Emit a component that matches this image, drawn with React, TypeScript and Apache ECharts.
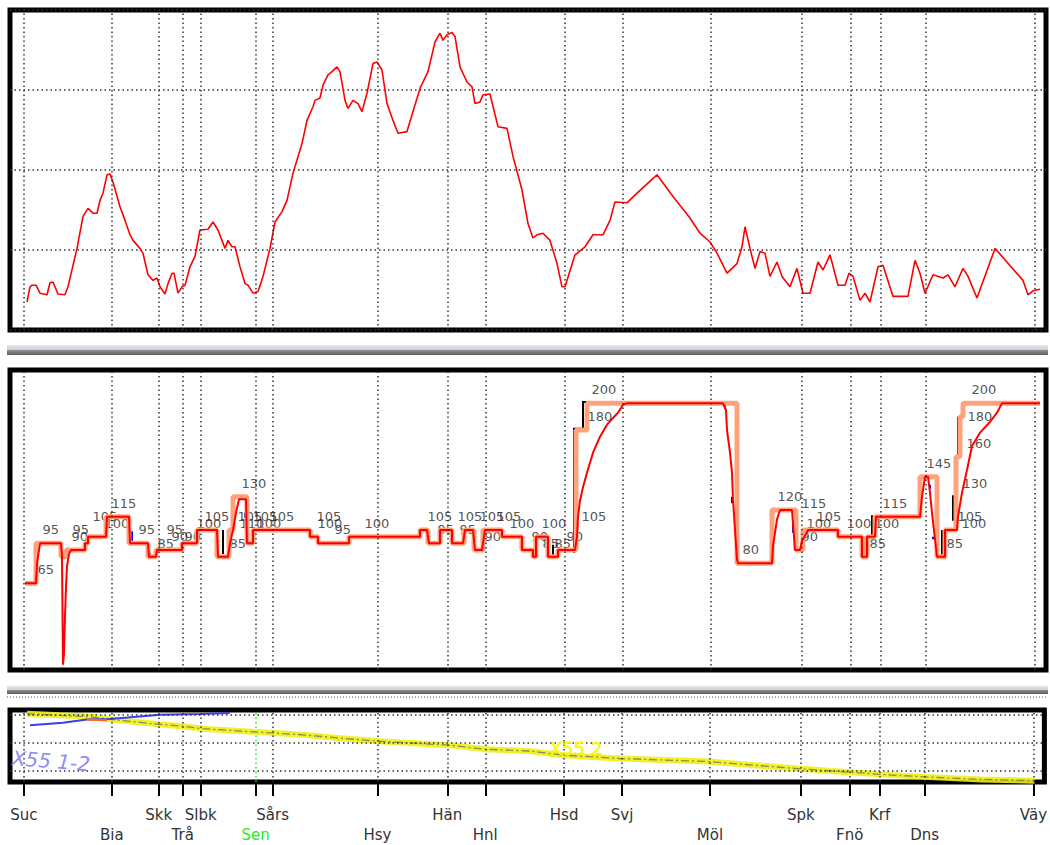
import React, { useEffect, useRef } from 'react';
import * as echarts from 'echarts';

// ---------- Stations ----------
const stationNames = ['Suc', 'Bia', 'Skk', 'Trå', 'Slbk', 'Sen', 'Sårs', 'Hsy', 'Hän', 'Hnl', 'Hsd', 'Svj', 'Möl', 'Spk', 'Fnö', 'Krf', 'Dns', 'Väy'];
const stationPos = [24, 112, 159, 183, 201, 256, 273, 378, 448, 486, 565, 623, 711, 802, 851, 881, 926, 1035];
const stationRow = [1, 2, 1, 2, 1, 2, 1, 2, 1, 2, 1, 1, 2, 1, 2, 1, 2, 1];

// ---------- Panel 1: elevation profile [position, height] ----------
const elevation = [
  [27, 35], [30, 54], [32, 56], [36, 56], [40, 46], [47, 44], [50, 59], [53, 60], [58, 45], [65, 44],
  [68, 54], [77, 102], [83, 142], [88, 152], [93, 146], [97, 146], [100, 162], [103, 171], [107, 194], [110, 195],
  [113, 185], [120, 154], [125, 137], [130, 119], [133, 112], [140, 102], [143, 96], [148, 69], [153, 62], [157, 65],
  [160, 54], [165, 45], [168, 58], [172, 71], [174, 71], [178, 46], [182, 54], [185, 56], [190, 79], [195, 92],
  [200, 125], [208, 126], [213, 135], [218, 125], [225, 102], [228, 112], [232, 104], [235, 104], [240, 79], [245, 58],
  [248, 56], [253, 46], [258, 48], [263, 67], [270, 102], [275, 135], [282, 148], [287, 162], [293, 196], [302, 233],
  [307, 262], [313, 279], [315, 287], [320, 290], [323, 306], [328, 319], [332, 323], [337, 329], [340, 323], [345, 287],
  [348, 277], [353, 287], [358, 283], [362, 273], [367, 296], [373, 333], [377, 335], [382, 325], [387, 283], [393, 262],
  [398, 246], [407, 248], [412, 269], [420, 302], [428, 323], [435, 360], [440, 371], [443, 362], [447, 369], [452, 372],
  [455, 367], [460, 329], [467, 310], [472, 304], [475, 283], [480, 285], [483, 294], [490, 295], [498, 254], [507, 252],
  [513, 217], [522, 175], [528, 133], [533, 115], [537, 119], [543, 121], [550, 112], [557, 83], [562, 54], [565, 54],
  [575, 94], [585, 104], [593, 119], [603, 119], [610, 137], [615, 160], [627, 159], [637, 171], [657, 194], [673, 167],
  [690, 140], [700, 121], [710, 110], [717, 96], [727, 71], [737, 83], [742, 104], [745, 129], [750, 102], [755, 77],
  [760, 98], [765, 96], [770, 67], [777, 85], [782, 67], [790, 54], [797, 77], [803, 46], [810, 46], [818, 85],
  [823, 75], [830, 94], [838, 56], [845, 56], [849, 71], [853, 67], [860, 37], [865, 46], [870, 35], [878, 79],
  [883, 81], [893, 42], [908, 42], [915, 87], [920, 71], [925, 46], [933, 69], [943, 65], [948, 69], [955, 54],
  [963, 77], [968, 67], [977, 40], [995, 102], [1023, 62], [1028, 44], [1033, 49], [1040, 51],
];

// ---------- Panel 2: speed ----------
// static speed profile: [start position, km/h]
const staticSpeed = [
  [25, 65], [36, 95], [61, 85], [66, 90], [85, 95], [88, 100], [106, 115], [129, 95], [148, 85], [156, 90],
  [182, 95], [197, 105], [217, 85], [229, 105], [233, 130], [247, 95], [253, 105], [310, 100], [318, 95], [349, 100],
  [420, 105], [428, 95], [440, 105], [452, 95], [464, 105], [474, 90], [483, 105], [502, 100], [522, 90], [533, 85],
  [536, 100], [548, 85], [558, 90], [576, 180], [587, 200], [737, 80], [772, 120], [796, 90], [803, 105], [838, 100],
  [862, 85], [867, 100], [875, 115], [920, 145], [937, 85], [945, 105], [956, 160], [960, 190], [963, 200], [1040, 200],
];
// permitted speed incl. braking / acceleration curves
const actualSpeed = [
  [25, 65], [36, 65], [37, 80], [40, 95], [61, 95], [62, 85], [63, 4], [64, 12], [65, 40], [66, 62], [67, 78], [69, 87], [71, 90],
  [85, 90], [85, 95], [88, 95], [88, 100], [106, 100], [107, 115], [129, 115], [130, 95], [148, 95], [149, 85], [156, 85],
  [157, 90], [182, 90], [182, 95], [197, 95], [197, 105], [217, 105], [218, 85], [228, 85], [230, 95], [233, 105], [236, 118],
  [239, 128], [246, 128], [247, 95], [253, 95], [253, 105], [310, 105], [310, 100], [318, 100], [318, 95], [349, 95], [349, 100],
  [420, 100], [420, 105], [427, 105], [429, 95], [440, 95], [440, 105], [452, 105], [452, 95], [463, 95], [465, 105], [473, 105],
  [475, 90], [482, 90], [483, 95], [485, 105], [502, 105], [502, 100], [522, 100], [522, 90], [533, 90], [533, 85], [536, 85],
  [536, 100], [548, 100], [548, 85], [558, 85], [558, 90], [575, 90], [577, 100], [578, 115], [580, 127], [583, 137], [587, 148],
  [593, 163], [600, 175], [607, 184], [613, 189], [618, 193], [623, 199], [627, 200], [723, 200], [726, 195], [727, 180],
  [730, 163], [732, 148], [733, 128], [735, 105], [737, 83], [738, 80], [772, 80], [773, 93], [777, 113], [780, 120], [792, 120],
  [795, 90], [800, 90], [802, 97], [806, 102], [808, 105], [838, 105], [838, 100], [862, 100], [862, 85], [867, 85], [867, 100],
  [875, 100], [876, 115], [920, 115], [922, 130], [925, 145], [928, 145], [930, 133], [932, 118], [935, 98], [937, 85], [945, 85],
  [945, 105], [957, 105], [958, 115], [962, 133], [967, 150], [972, 168], [980, 178], [990, 186], [997, 193], [1002, 200], [1040, 200],
];
const blackMarks = [
  [[223, 87], [223, 105]], [[228, 85], [228, 105]], [[420, 100], [420, 106]], [[463, 96], [463, 106]],
  [[535, 92], [535, 100]], [[553, 85], [553, 94]], [[574, 88], [574, 181], [583, 181], [583, 201], [590, 201]],
  [[872, 100], [872, 116]], [[942, 85], [942, 105]], [[953, 112], [953, 131]], [[958, 160], [958, 190]],
];
const blueMarks = [
  [[132, 96], [132, 104]], [[150, 85], [150, 88]], [[218, 85], [218, 94]], [[245, 114], [245, 118]],
  [[473, 97], [473, 101]], [[547, 93], [547, 96]], [[725, 196], [725, 200]], [[732, 125], [732, 130]],
  [[738, 80], [738, 84]], [[793, 103], [793, 112]], [[930, 136], [930, 139]], [[933, 98], [933, 100]],
];
// speed sign labels: [position, level, text]
const speedLabels = [
  [38, 65, '65'], [43, 95, '95'], [73, 95, '95'], [72, 90, '90'], [93, 105, '105'], [105, 100, '100'], [112, 115, '115'],
  [139, 95, '95'], [158, 85, '85'], [167, 95, '95'], [172, 90, '90'], [185, 90, '90'], [197, 100, '100'], [205, 105, '105'],
  [230, 85, '85'], [242, 130, '130'], [238, 105, '105'], [240, 100, '110'], [253, 105, '105'], [257, 100, '100'], [270, 105, '105'],
  [317, 105, '105'], [318, 100, '100'], [335, 95, '95'], [365, 100, '100'], [428, 105, '105'], [438, 95, '95'], [458, 105, '105'],
  [460, 95, '95'], [480, 105, '105'], [497, 105, '105'], [485, 90, '90'], [510, 100, '100'], [542, 100, '100'], [532, 90, '90'],
  [543, 85, '85'], [555, 85, '85'], [567, 90, '90'], [582, 105, '105'], [588, 180, '180'], [592, 200, '200'], [743, 80, '80'],
  [778, 120, '120'], [802, 115, '115'], [817, 105, '105'], [807, 100, '100'], [802, 90, '90'], [847, 100, '100'], [875, 100, '100'],
  [883, 115, '115'], [870, 85, '85'], [927, 145, '145'], [963, 130, '130'], [967, 160, '160'], [968, 180, '180'], [972, 200, '200'],
  [958, 105, '105'], [962, 100, '100'], [947, 85, '85'],
];

// ---------- Panel 3: train paths [position, time] ----------
const pathX552 = [
  [27, 2.04], [60, 1.98], [90, 1.93], [112, 1.83], [159, 1.66], [183, 1.59], [203, 1.5], [257, 1.38], [304, 1.28], [338, 1.17],
  [379, 1.05], [450, 0.91], [487, 0.76], [530, 0.7], [564, 0.55], [621, 0.43], [709, 0.32], [801, 0.06], [851, -0.06],
  [882, -0.14], [926, -0.23], [983, -0.32], [1036, -0.37],
];
const pathX5512 = [[30, 1.62], [63, 1.71], [87, 1.83], [110, 1.85], [140, 1.94], [160, 2.0], [200, 2.03], [230, 2.06]];
const pathShort = [[87, 1.82], [107, 1.8]];
const timeLines = [0, 1, 2];

const FONT = '"DejaVu Sans", Verdana, sans-serif';
const dotted = { type: [1.5, 3] as number[], color: '#333', width: 1.5 };

function buildOption(): any {
  const stationMarks = stationPos.map((p) => ({ xAxis: p }));
  const stationMarks3 = stationPos.map((p, i) =>
    stationNames[i] === 'Sen' ? { xAxis: p, lineStyle: { color: '#22ee22', type: [1.5, 3], width: 1.5 } } : { xAxis: p }
  );
  const baseMark = {
    silent: true,
    symbol: ['none', 'none'],
    label: { show: false },
    lineStyle: dotted,
    animation: false,
  };
  const grids = [
    { left: 10, right: 4, top: 10, height: 320 },
    { left: 10, right: 4, top: 370, height: 300 },
    { left: 10, right: 4, top: 710, height: 75.5 },
  ].map((g) => ({ ...g, show: true, borderColor: '#000', borderWidth: 5, backgroundColor: '#fff', containLabel: false }));

  const hiddenX = (i: number) => ({
    type: 'value', gridIndex: i, min: 10, max: 1046,
    axisLine: { show: false }, axisTick: { show: false }, axisLabel: { show: false }, splitLine: { show: false },
  });

  return {
    animation: false,
    backgroundColor: '#fff',
    grid: grids,
    xAxis: [
      hiddenX(0),
      hiddenX(1),
      {
        type: 'value', gridIndex: 2, min: 10, max: 1046,
        axisLine: { show: true, onZero: false, lineStyle: { color: '#000', width: 2 } },
        splitLine: { show: false },
        axisTick: { show: true, customValues: stationPos, length: 14, inside: false, lineStyle: { color: '#000', width: 2 } },
        axisLabel: {
          show: true,
          customValues: stationPos,
          margin: 23,
          fontFamily: FONT,
          fontSize: 15,
          color: '#333',
          lineHeight: 20,
          formatter: (v: number) => {
            const i = stationPos.indexOf(v);
            if (i < 0) return '';
            const n = stationNames[i];
            const t = n === 'Sen' ? `{g|${n}}` : n;
            return stationRow[i] === 2 ? `\n${t}` : t;
          },
          rich: { g: { color: '#22ee22', fontFamily: FONT, fontSize: 15, lineHeight: 20 } },
        },
      },
    ],
    yAxis: [
      {
        type: 'value', gridIndex: 0, min: 0, max: 400, interval: 100,
        axisLine: { show: false }, axisTick: { show: false }, axisLabel: { show: false },
        splitLine: { show: true, lineStyle: dotted },
      },
      {
        type: 'value', gridIndex: 1, min: 0, max: 225,
        axisLine: { show: false }, axisTick: { show: false }, axisLabel: { show: false }, splitLine: { show: false },
      },
      {
        type: 'value', gridIndex: 2, min: -0.414, max: 2.172,
        axisLine: { show: false }, axisTick: { show: false }, axisLabel: { show: false }, splitLine: { show: false },
      },
    ],
    series: [
      {
        name: 'Höjd', type: 'line', xAxisIndex: 0, yAxisIndex: 0, data: elevation, symbol: 'none',
        lineStyle: { color: '#ff0000', width: 1.6 }, itemStyle: { color: '#ff0000' },
        markLine: { ...baseMark, data: stationMarks },
      },
      {
        name: 'Sth', type: 'line', xAxisIndex: 1, yAxisIndex: 1, data: staticSpeed, step: 'end', symbol: 'none',
        lineStyle: { color: '#ffa27c', width: 5 }, itemStyle: { color: '#ffa27c' },
        markLine: { ...baseMark, data: stationMarks },
      },
      {
        name: 'black', type: 'lines', coordinateSystem: 'cartesian2d', xAxisIndex: 1, yAxisIndex: 1, polyline: true,
        data: blackMarks.map((c) => ({ coords: c })),
        lineStyle: { color: '#000', width: 2, opacity: 1 }, silent: true,
      },
      {
        name: 'Tillåten', type: 'line', xAxisIndex: 1, yAxisIndex: 1, data: actualSpeed, symbol: 'none',
        lineStyle: { color: '#ff0000', width: 2 }, itemStyle: { color: '#ff0000' },
      },
      {
        name: 'blue', type: 'lines', coordinateSystem: 'cartesian2d', xAxisIndex: 1, yAxisIndex: 1, polyline: true,
        data: blueMarks.map((c) => ({ coords: c })),
        lineStyle: { color: '#0000ff', width: 2, opacity: 1 }, silent: true,
      },
      {
        name: 'labels', type: 'scatter', xAxisIndex: 1, yAxisIndex: 1, data: speedLabels, symbolSize: 1,
        itemStyle: { color: 'rgba(0,0,0,0)' }, silent: true,
        label: {
          show: true, position: [0, -13], align: 'left', verticalAlign: 'middle',
          fontFamily: FONT, fontSize: 13, color: '#262626',
          formatter: (p: any) => String(p.value[2]),
        },
      },
      {
        name: 'X55 2', type: 'line', xAxisIndex: 2, yAxisIndex: 2, data: pathX552, symbol: 'none',
        lineStyle: { color: 'rgba(238,238,20,0.9)', width: 6 },
        markLine: {
          ...baseMark,
          data: [...stationMarks3, ...timeLines.map((t) => ({ yAxis: t }))],
        },
      },
      {
        name: 'X55 2 c', type: 'line', xAxisIndex: 2, yAxisIndex: 2, data: pathX552, symbol: 'none',
        lineStyle: { color: '#8a8a60', width: 1.3, type: [8, 3, 2, 3] },
      },
      {
        name: 'X55 1-2', type: 'line', xAxisIndex: 2, yAxisIndex: 2, data: pathX5512, symbol: 'none',
        lineStyle: { color: '#3c3cf0', width: 2 },
      },
      {
        name: 'short', type: 'line', xAxisIndex: 2, yAxisIndex: 2, data: pathShort, symbol: 'none',
        lineStyle: { color: '#ff6a10', width: 2 },
      },
    ],
    graphic: [
      {
        type: 'rect', shape: { x: 7, y: 345, width: 1041, height: 10 }, silent: true,
        style: {
          fill: new echarts.graphic.LinearGradient(0, 0, 0, 1, [
            { offset: 0, color: '#e6e6f0' },
            { offset: 0.45, color: '#cfcfdc' },
            { offset: 0.55, color: '#8c8c8c' },
            { offset: 1, color: '#5c5c5c' },
          ]),
        },
      },
      {
        type: 'rect', shape: { x: 7, y: 686, width: 1041, height: 8 }, silent: true,
        style: {
          fill: new echarts.graphic.LinearGradient(0, 0, 0, 1, [
            { offset: 0, color: '#e6e6f0' },
            { offset: 0.45, color: '#cfcfdc' },
            { offset: 0.55, color: '#8c8c8c' },
            { offset: 1, color: '#5c5c5c' },
          ]),
        },
      },
      {
        type: 'line', shape: { x1: 7, y1: 697, x2: 1048, y2: 697 }, silent: true,
        style: { stroke: '#555', lineWidth: 1, lineDash: [1, 2] },
      },
      {
        type: 'text', x: 12, y: 758, rotation: -0.08, silent: true, z: 100,
        style: { text: 'X55 1-2', fill: '#8c8cf4', font: `italic 20px ${FONT}`, verticalAlign: 'middle' },
      },
      {
        type: 'text', x: 550, y: 748, silent: true, z: 100,
        style: { text: 'X55 2', fill: '#ffff00', stroke: '#b8b800', lineWidth: 0.4, font: `18px ${FONT}`, verticalAlign: 'middle' },
      },
    ],
  };
}

export default function App() {
  const ref = useRef<HTMLDivElement>(null);
  useEffect(() => {
    if (!ref.current) return;
    const chart = echarts.init(ref.current, undefined, { renderer: 'svg' });
    chart.setOption(buildOption());
    return () => chart.dispose();
  }, []);
  return (
    <div
      ref={ref}
      style={{ position: 'absolute', left: 0, top: 0, width: 1050, height: 845, background: '#fff' }}
    />
  );
}
